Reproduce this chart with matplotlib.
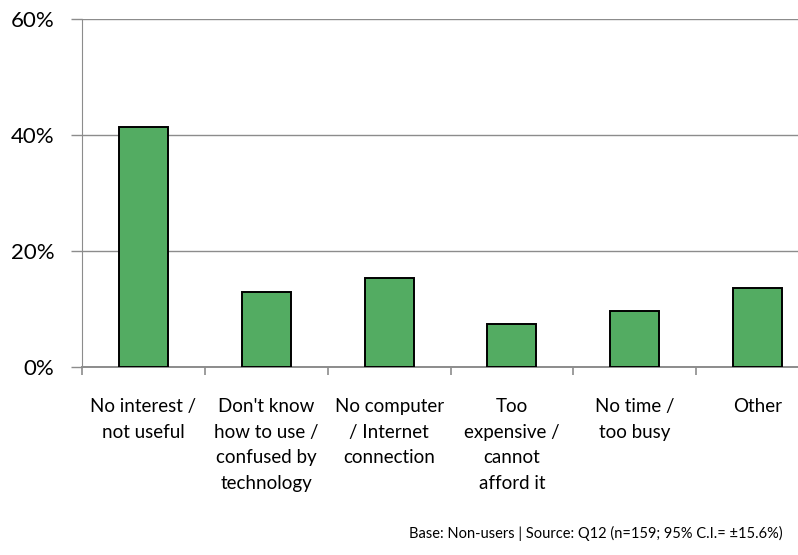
import numpy as np
import matplotlib.pyplot as plt
from matplotlib.ticker import FixedLocator, PercentFormatter

plt.rcParams["font.family"] = ["Lato", "DejaVu Sans"]

# Reasons given by non-users
categories = [
    "No interest /\nnot useful",
    "Don't know\nhow to use /\nconfused by\ntechnology",
    "No computer\n/ Internet\nconnection",
    "Too\nexpensive /\ncannot\nafford it",
    "No time /\ntoo busy",
    "Other",
]
shares = [41.3, 12.9, 15.3, 7.4, 9.7, 13.6]
y_ticks = [0, 20, 40, 60]
footnote = "Base: Non-users | Source: Q12 (n=159; 95% C.I.= \u00b115.6%)"

BAR_COLOR = "#53AC62"
GRID_COLOR = "#8C8C8C"

fig = plt.figure(figsize=(7.98, 5.55), dpi=100)
# axes run a little past the right edge of the figure
ax = fig.add_axes([82 / 798, 188 / 555, 737 / 798, 348 / 555])

x = np.arange(len(categories))
ax.bar(x, shares, width=0.4, color=BAR_COLOR, edgecolor="black", linewidth=1.4, zorder=3)

ax.set_xlim(-0.5, len(categories) - 0.5)
ax.set_ylim(0, 60)

ax.yaxis.set_major_locator(FixedLocator(y_ticks))
ax.yaxis.set_major_formatter(PercentFormatter(decimals=0))
ax.grid(axis="y", color=GRID_COLOR, linewidth=1.0, zorder=0)
ax.tick_params(axis="y", length=8, width=1.0, color=GRID_COLOR, labelsize=16, pad=12)

# category labels sit between boundary ticks
ax.set_xticks(np.arange(len(categories) + 1) - 0.5)
ax.set_xticklabels([])
ax.set_xticks(x, minor=True)
ax.set_xticklabels(categories, minor=True, fontsize=13.5, linespacing=1.64, va="top")
ax.tick_params(axis="x", which="major", length=6, width=1.2, color=GRID_COLOR)
ax.tick_params(axis="x", which="minor", length=0, pad=22)

for side in ["top", "right"]:
    ax.spines[side].set_visible(False)
ax.spines["left"].set_color(GRID_COLOR)
ax.spines["bottom"].set_color(GRID_COLOR)
ax.spines["bottom"].set_linewidth(1.4)

fig.text(783 / 798, 1 - 533 / 555, footnote, ha="right", va="center", fontsize=10.5)

fig.savefig("out.png", dpi=100)
